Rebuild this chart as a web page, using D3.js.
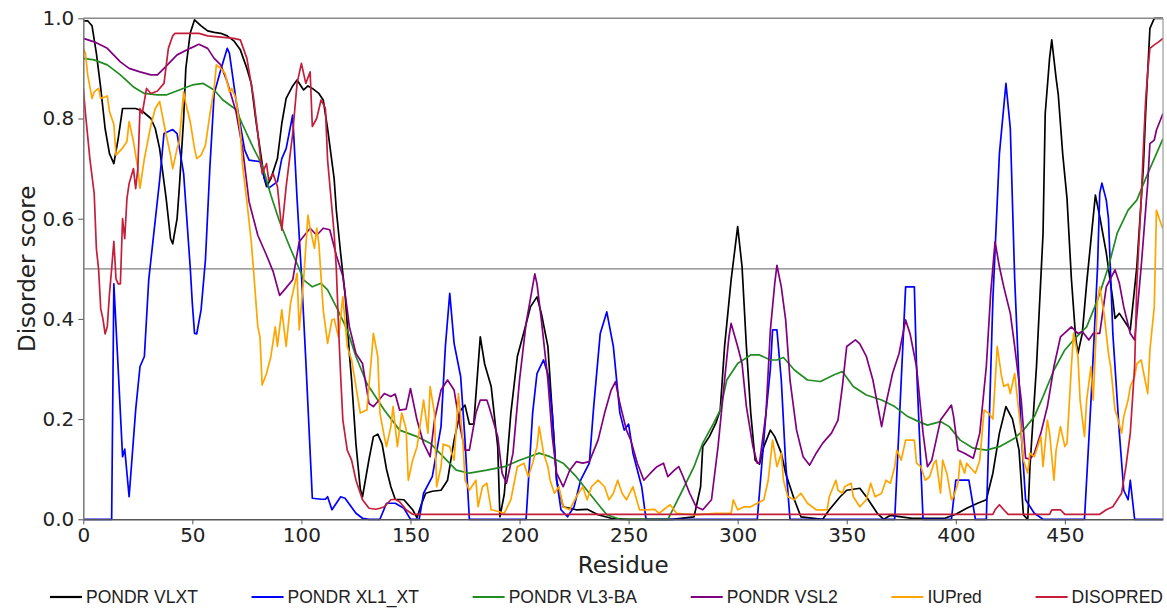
<!DOCTYPE html>
<html>
<head>
<meta charset="utf-8">
<script src="https://cdn.jsdelivr.net/npm/d3@7"></script>
<style>
  html, body { margin: 0; padding: 0; background: #fff; }
  svg { display: block; }
  .tick text { font-family: "DejaVu Sans", sans-serif; font-size: 20px; fill: #222; }
  .axis-title { font-family: "DejaVu Sans", sans-serif; font-size: 23px; fill: #222; }
  .legend text { font-family: "Liberation Sans", Arial, sans-serif; font-size: 17.5px; fill: #222; }
</style>
</head>
<body>
<svg id="chart" width="1167" height="610"></svg>
<script>
// Per-residue disorder predictions, [residue, score] pairs.
const pondrVLXT = [[0,0.995],[2,0.995],[4,0.985],[6,0.93],[8,0.86],[10,0.78],[12,0.73],[14,0.71],[16,0.76],[18,0.82],[21,0.82],[24,0.82],[27,0.815],[31,0.80],[33,0.78],[35,0.74],[38,0.64],[40,0.56],[41,0.55],[43,0.60],[44,0.66],[46,0.80],[47,0.90],[49,0.97],[51,0.997],[54,0.985],[57,0.975],[60,0.972],[63,0.97],[66,0.965],[69,0.955],[72,0.937],[75,0.90],[77,0.87],[79,0.80],[81,0.74],[83,0.68],[84,0.664],[86,0.68],[89,0.72],[91,0.79],[93,0.84],[96,0.865],[98,0.877],[101,0.857],[103,0.865],[105,0.86],[108,0.85],[110,0.837],[112,0.78],[115,0.68],[116,0.617],[118,0.53],[120,0.45],[122,0.33],[123,0.278],[125,0.15],[127,0.06],[128,0.045],[131,0.12],[133,0.165],[135,0.17],[137,0.15],[139,0.10],[141,0.065],[143,0.04],[147,0.039],[151,0.019],[153,0.003],[155,0.03],[157,0.052],[160,0.056],[164,0.058],[167,0.078],[170,0.158],[173,0.218],[175,0.228],[177,0.19],[179,0.19],[182,0.364],[184,0.31],[187,0.265],[190,0.145],[191,0.005],[193,0.05],[196,0.211],[199,0.325],[203,0.39],[205,0.424],[208,0.444],[210,0.411],[213,0.345],[215,0.212],[217,0.078],[220,0.025],[226,0.019],[231,0.02],[236,0.009],[242,0.002],[250,0],[270,0],[280,0.005],[283,0.065],[284,0.145],[287,0.165],[290,0.192],[292,0.218],[294,0.345],[297,0.478],[300,0.584],[302,0.505],[304,0.345],[306,0.212],[308,0.118],[310,0.11],[312,0.145],[315,0.178],[317,0.165],[320,0.132],[322,0.092],[326,0.039],[329,0.005],[339,0],[342,0.019],[347,0.045],[350,0.058],[356,0.062],[359,0.045],[364,0.012],[367,0],[370,0.008],[375,0.005],[380,0.002],[395,0.002],[400,0.01],[405,0.022],[410,0.032],[414,0.039],[417,0.092],[420,0.172],[423,0.225],[426,0.20],[429,0.138],[431,0.009],[433,0],[434,0.105],[437,0.305],[440,0.57],[441,0.81],[443,0.92],[444,0.957],[446,0.88],[447,0.847],[449,0.73],[451,0.64],[453,0.48],[455,0.36],[456,0.331],[458,0.371],[460,0.471],[464,0.647],[466,0.604],[469,0.532],[472,0.438],[473,0.401],[475,0.411],[480,0.378],[483,0.504],[486,0.704],[487,0.807],[489,0.98],[491,1.0],[495,1.0]];

const pondrXL1 = [[0,0],[13,0],[14,0.47],[16,0.30],[18,0.125],[19,0.14],[21,0.045],[24,0.218],[26,0.305],[28,0.325],[30,0.478],[31,0.518],[35,0.677],[37,0.77],[41,0.778],[43,0.77],[46,0.69],[49,0.504],[50,0.43],[51,0.371],[52,0.37],[54,0.418],[56,0.518],[58,0.70],[60,0.85],[63,0.897],[66,0.94],[67,0.93],[70,0.837],[74,0.737],[76,0.717],[81,0.714],[83,0.68],[85,0.661],[89,0.674],[91,0.72],[93,0.74],[96,0.807],[98,0.64],[100,0.49],[102,0.318],[105,0.042],[109,0.04],[111,0.04],[112,0.045],[114,0.019],[118,0.045],[120,0.042],[122,0.03],[125,0.012],[128,0.002],[131,0],[136,0],[139,0.032],[143,0.032],[147,0.022],[150,0],[154,0],[156,0.052],[160,0.085],[164,0.185],[166,0.345],[168,0.451],[170,0.351],[173,0.285],[175,0.158],[177,0],[203,0],[206,0.212],[208,0.291],[211,0.318],[213,0.29],[215,0.212],[217,0.078],[219,0.019],[222,0.005],[225,0.025],[228,0.078],[232,0.112],[234,0.225],[237,0.371],[240,0.414],[243,0.345],[246,0.212],[248,0.178],[250,0.19],[252,0.132],[256,0.065],[258,0],[309,0],[313,0.212],[315,0.30],[316,0.378],[318,0.378],[320,0.278],[322,0.112],[324,0],[372,0],[375,0.278],[377,0.464],[381,0.464],[382,0.305],[385,0],[398,0],[400,0.078],[406,0.078],[409,0],[414,0],[417,0.438],[420,0.73],[423,0.87],[425,0.78],[427,0.48],[430,0.172],[432,0.039],[436,0.012],[440,0],[459,0],[462,0.238],[465,0.504],[466,0.651],[467,0.671],[469,0.637],[470,0.60],[472,0.371],[475,0.172],[477,0.058],[479,0.039],[480,0.078],[482,0],[495,0]];

const pondrVL3BA = [[0,0.92],[5,0.917],[11,0.907],[17,0.887],[23,0.863],[28,0.85],[34,0.847],[38,0.847],[44,0.857],[50,0.867],[55,0.87],[60,0.857],[64,0.837],[70,0.818],[73,0.788],[78,0.741],[82,0.707],[86,0.647],[90,0.594],[95,0.54],[99,0.50],[101,0.478],[105,0.464],[109,0.471],[112,0.458],[116,0.424],[121,0.378],[125,0.325],[130,0.271],[135,0.238],[138,0.218],[145,0.178],[153,0.165],[159,0.152],[165,0.125],[171,0.098],[177,0.092],[185,0.098],[193,0.105],[200,0.118],[209,0.132],[214,0.125],[220,0.112],[226,0.085],[232,0.052],[237,0.025],[240,0.009],[246,0],[268,0],[274,0.052],[280,0.105],[284,0.152],[289,0.192],[292,0.218],[295,0.278],[300,0.311],[306,0.328],[310,0.328],[315,0.318],[318,0.318],[321,0.323],[326,0.298],[332,0.278],[338,0.275],[344,0.288],[348,0.295],[353,0.265],[359,0.248],[366,0.238],[372,0.225],[378,0.205],[383,0.195],[387,0.188],[393,0.195],[397,0.185],[402,0.158],[408,0.142],[414,0.138],[420,0.145],[427,0.162],[431,0.178],[436,0.205],[440,0.245],[445,0.298],[450,0.338],[454,0.358],[460,0.384],[465,0.438],[470,0.504],[474,0.571],[479,0.617],[483,0.637],[488,0.69],[494,0.75],[495,0.76]];

const pondrVSL2 = [[0,0.96],[5,0.953],[11,0.94],[17,0.913],[21,0.90],[26,0.893],[31,0.887],[34,0.887],[37,0.90],[43,0.927],[49,0.94],[53,0.948],[57,0.94],[60,0.92],[63,0.907],[66,0.873],[70,0.814],[73,0.741],[76,0.634],[80,0.567],[84,0.527],[87,0.495],[90,0.447],[92,0.457],[96,0.478],[99,0.554],[104,0.581],[107,0.567],[110,0.581],[113,0.578],[116,0.527],[119,0.485],[122,0.384],[125,0.331],[128,0.311],[131,0.231],[133,0.225],[135,0.235],[138,0.251],[141,0.245],[143,0.25],[145,0.218],[148,0.22],[150,0.261],[153,0.198],[156,0.152],[159,0.125],[161,0.198],[164,0.258],[167,0.278],[170,0.258],[173,0.178],[175,0.138],[177,0.138],[180,0.212],[182,0.238],[185,0.238],[186,0.225],[190,0.165],[192,0.092],[194,0.072],[197,0.132],[200,0.278],[203,0.391],[207,0.49],[208,0.47],[210,0.398],[213,0.278],[215,0.165],[217,0.092],[220,0.065],[223,0.098],[226,0.115],[229,0.112],[232,0.115],[236,0.158],[239,0.212],[242,0.258],[244,0.275],[246,0.231],[249,0.178],[251,0.158],[254,0.112],[257,0.078],[260,0.092],[263,0.105],[266,0.112],[268,0.085],[271,0.098],[273,0.105],[275,0.085],[278,0.052],[281,0.025],[284,0.019],[288,0.039],[291,0.145],[294,0.278],[296,0.364],[297,0.391],[300,0.345],[302,0.311],[304,0.225],[307,0.145],[309,0.112],[310,0.112],[313,0.212],[315,0.378],[317,0.471],[318,0.507],[320,0.464],[322,0.398],[324,0.278],[327,0.178],[330,0.125],[333,0.108],[336,0.132],[339,0.152],[343,0.172],[346,0.198],[348,0.265],[350,0.345],[354,0.358],[356,0.35],[359,0.325],[362,0.278],[366,0.185],[368,0.231],[371,0.291],[374,0.331],[377,0.398],[379,0.371],[382,0.305],[385,0.172],[387,0.105],[389,0.118],[393,0.198],[398,0.228],[399,0.205],[401,0.138],[404,0.132],[408,0.122],[411,0.172],[414,0.305],[416,0.451],[418,0.554],[420,0.504],[422,0.464],[425,0.411],[427,0.345],[430,0.238],[432,0.122],[434,0.12],[436,0.132],[439,0.172],[442,0.225],[445,0.305],[448,0.364],[453,0.384],[456,0.371],[458,0.375],[461,0.358],[463,0.371],[466,0.371],[469,0.464],[473,0.498],[475,0.471],[477,0.424],[480,0.371],[482,0.358],[485,0.504],[488,0.671],[489,0.75],[491,0.757],[492,0.777],[495,0.81]];

const iuPred = [[0,0.94],[1,0.93],[2,0.887],[4,0.84],[5,0.853],[7,0.86],[8,0.84],[11,0.845],[12,0.814],[14,0.788],[15,0.727],[18,0.741],[20,0.754],[21,0.794],[23,0.754],[25,0.70],[26,0.661],[28,0.72],[31,0.787],[33,0.82],[35,0.834],[38,0.767],[40,0.727],[41,0.70],[43,0.74],[44,0.754],[46,0.853],[47,0.83],[49,0.794],[51,0.74],[52,0.72],[54,0.727],[56,0.747],[58,0.807],[60,0.86],[61,0.907],[63,0.90],[65,0.89],[67,0.853],[68,0.86],[70,0.84],[72,0.774],[73,0.707],[75,0.634],[77,0.554],[78,0.50],[80,0.384],[81,0.364],[82,0.268],[84,0.291],[86,0.325],[88,0.384],[89,0.345],[91,0.418],[93,0.345],[95,0.431],[96,0.451],[98,0.491],[99,0.378],[101,0.478],[103,0.607],[104,0.58],[106,0.541],[107,0.581],[108,0.55],[110,0.418],[112,0.351],[114,0.398],[115,0.40],[117,0.364],[119,0.444],[121,0.345],[123,0.318],[125,0.265],[127,0.212],[130,0.218],[132,0.318],[133,0.371],[135,0.325],[136,0.212],[138,0.165],[139,0.145],[141,0.185],[142,0.225],[144,0.145],[146,0.212],[148,0.18],[149,0.078],[151,0.118],[153,0.145],[154,0.175],[156,0.238],[158,0.172],[159,0.265],[161,0.212],[162,0.065],[164,0.105],[165,0.15],[168,0.145],[170,0.118],[172,0.251],[174,0.158],[175,0.078],[177,0.058],[180,0.078],[181,0.025],[183,0.065],[185,0.072],[187,0.019],[190,0.016],[193,0.012],[196,0.039],[199,0.105],[202,0.112],[204,0.085],[206,0.112],[208,0.145],[209,0.185],[211,0.132],[213,0.105],[214,0.078],[216,0.052],[218,0.065],[220,0.025],[223,0.019],[226,0.045],[229,0.065],[231,0.039],[233,0.065],[236,0.078],[239,0.065],[241,0.039],[243,0.052],[245,0.078],[247,0.052],[249,0.039],[252,0.065],[255,0.019],[258,0.019],[262,0.02],[264,0.012],[266,0.019],[269,0.029],[272,0.012],[280,0.009],[290,0.012],[297,0.012],[298,0.039],[300,0.019],[303,0.025],[306,0.025],[309,0.032],[312,0.039],[314,0.078],[316,0.158],[318,0.105],[320,0.132],[321,0.078],[323,0.045],[326,0.039],[329,0.052],[332,0.032],[336,0.019],[341,0.019],[342,0.045],[345,0.078],[346,0.058],[348,0.052],[349,0.065],[352,0.072],[353,0.045],[356,0.025],[359,0.039],[361,0.072],[363,0.045],[366,0.052],[368,0.078],[370,0.072],[372,0.105],[373,0.138],[375,0.118],[377,0.158],[381,0.158],[382,0.112],[384,0.105],[386,0.078],[388,0.085],[390,0.112],[391,0.118],[393,0.052],[394,0.118],[396,0.09],[398,0.039],[399,0.045],[401,0.072],[402,0.118],[404,0.092],[405,0.112],[409,0.092],[411,0.118],[413,0.218],[415,0.212],[417,0.2],[418,0.271],[419,0.345],[421,0.285],[422,0.265],[424,0.27],[425,0.251],[427,0.291],[428,0.251],[430,0.172],[431,0.118],[433,0.092],[434,0.132],[436,0.125],[437,0.138],[439,0.165],[440,0.105],[442,0.198],[443,0.172],[445,0.078],[446,0.138],[448,0.185],[450,0.145],[451,0.152],[453,0.305],[454,0.371],[456,0.325],[457,0.238],[459,0.165],[460,0.238],[462,0.305],[463,0.238],[465,0.438],[466,0.464],[468,0.41],[470,0.331],[471,0.305],[473,0.218],[474,0.205],[476,0.172],[477,0.205],[479,0.238],[480,0.265],[482,0.285],[483,0.31],[485,0.318],[486,0.295],[488,0.251],[489,0.338],[491,0.424],[492,0.617],[494,0.591],[495,0.58]];

const disopred = [[0,0.86],[1,0.81],[3,0.72],[5,0.65],[6,0.54],[7,0.50],[8,0.42],[9,0.40],[10,0.37],[11,0.385],[12,0.45],[13,0.50],[14,0.555],[15,0.48],[16,0.47],[17,0.47],[18,0.60],[19,0.56],[20,0.64],[21,0.67],[23,0.70],[24,0.66],[25,0.70],[26,0.82],[27,0.81],[29,0.86],[31,0.85],[34,0.855],[37,0.87],[39,0.94],[41,0.965],[42,0.97],[53,0.97],[57,0.965],[69,0.96],[72,0.957],[75,0.92],[78,0.843],[80,0.771],[82,0.69],[84,0.71],[85,0.677],[87,0.69],[89,0.664],[91,0.577],[93,0.664],[96,0.77],[98,0.87],[100,0.91],[102,0.87],[104,0.893],[105,0.784],[107,0.80],[109,0.837],[111,0.82],[112,0.717],[115,0.571],[116,0.50],[117,0.385],[118,0.285],[119,0.198],[121,0.138],[123,0.118],[125,0.078],[128,0.039],[131,0.022],[134,0.02],[136,0.022],[138,0.025],[141,0.039],[143,0.04],[145,0.035],[148,0.019],[151,0.01],[417,0.01],[418,0.019],[420,0.029],[422,0.019],[424,0.01],[443,0.01],[444,0.019],[448,0.019],[450,0.01],[466,0.01],[469,0.019],[472,0.025],[476,0.052],[478,0.105],[480,0.172],[482,0.305],[483,0.471],[485,0.637],[486,0.74],[487,0.834],[488,0.893],[489,0.94],[491,0.947],[493,0.953],[495,0.96]];

const seriesNames = ["PONDR VLXT", "PONDR XL1_XT", "PONDR VL3-BA", "PONDR VSL2", "IUPred", "DISOPRED"];
const seriesColors = ["#000000", "#0000ff", "#228b22", "#800080", "#ffa500", "#c41e3a"];
const seriesData = [pondrVLXT, pondrXL1, pondrVL3BA, pondrVSL2, iuPred, disopred];

const residueTicks = [0, 50, 100, 150, 200, 250, 300, 350, 400, 450];
const scoreTicks = [0.0, 0.2, 0.4, 0.6, 0.8, 1.0];
const disorderThreshold = 0.5;

const svg = d3.select("#chart");
const W = 1167, H = 610;
const margin = { top: 18.3, right: 4, bottom: 90.7, left: 83.3 };

const x = d3.scaleLinear().domain([0, 495]).range([margin.left, W - margin.right]);
const y = d3.scaleLinear().domain([0, 1]).range([H - margin.bottom, margin.top]);

// clip the traces to the plotting box
svg.append("defs").append("clipPath").attr("id", "plot-clip")
  .append("rect")
  .attr("x", x(0)).attr("y", y(1) - 2)
  .attr("width", x(495) - x(0)).attr("height", y(0) - y(1) + 4);

// threshold line
svg.append("line")
  .attr("x1", x(0)).attr("x2", x(495))
  .attr("y1", y(disorderThreshold)).attr("y2", y(disorderThreshold))
  .attr("stroke", "#808080").attr("stroke-width", 1.3);

const line = d3.line().x(d => x(d[0])).y(d => y(d[1]));

const traces = svg.append("g").attr("clip-path", "url(#plot-clip)");
seriesData.forEach((data, i) => {
  traces.append("path")
    .datum(data)
    .attr("d", line)
    .attr("fill", "none")
    .attr("stroke", seriesColors[i])
    .attr("stroke-width", 1.7)
    .attr("stroke-linejoin", "round");
});

// frame
svg.append("line").attr("x1", x(0)).attr("x2", x(495)).attr("y1", y(1)).attr("y2", y(1))
  .attr("stroke", "#8a8a8a").attr("stroke-width", 1.5);
svg.append("line").attr("x1", x(495)).attr("x2", x(495)).attr("y1", y(1)).attr("y2", y(0))
  .attr("stroke", "#9a9a9a").attr("stroke-width", 1.2);

// axes
const xAxis = d3.axisBottom(x).tickValues(residueTicks).tickFormat(d3.format("d"))
  .tickSize(5).tickPadding(4).tickSizeOuter(0);
const yAxis = d3.axisLeft(y).tickValues(scoreTicks).tickFormat(d3.format(".1f"))
  .tickSize(5).tickPadding(4).tickSizeOuter(0);

const gx = svg.append("g").attr("transform", `translate(0,${y(0)})`).call(xAxis);
const gy = svg.append("g").attr("transform", `translate(${x(0)},0)`).call(yAxis);
gx.select(".domain").attr("stroke", "#555").attr("stroke-width", 1.5);
gy.select(".domain").attr("stroke", "#777").attr("stroke-width", 1.5);
gx.selectAll(".tick line").attr("stroke", "#555");
gy.selectAll(".tick line").attr("stroke", "#555");

// axis titles
svg.append("text").attr("class", "axis-title")
  .attr("x", (x(0) + x(495)) / 2).attr("y", 573)
  .attr("text-anchor", "middle").text("Residue");
svg.append("text").attr("class", "axis-title")
  .attr("transform", `translate(35,${(y(0) + y(1)) / 2}) rotate(-90)`)
  .attr("text-anchor", "middle").text("Disorder score");

// legend laid out in one row below the axis
const legend = svg.append("g").attr("class", "legend");
const handleLen = 32, handlePad = 4, legendLeft = 50, legendRight = 1163, legendY = 597;
const items = seriesNames.map((name, i) => {
  const g = legend.append("g");
  g.append("line").attr("x1", 0).attr("x2", handleLen).attr("y1", 0).attr("y2", 0)
    .attr("stroke", seriesColors[i]).attr("stroke-width", 2.2);
  const t = g.append("text").attr("x", handleLen + handlePad).attr("y", 0)
    .attr("dy", "0.35em").text(name);
  return { g, w: handleLen + handlePad + t.node().getComputedTextLength() };
});
const totalW = d3.sum(items, d => d.w);
const gap = (legendRight - legendLeft - totalW) / (items.length - 1);
let cx = legendLeft;
items.forEach(it => {
  it.g.attr("transform", `translate(${cx},${legendY})`);
  cx += it.w + gap;
});
</script>
</body>
</html>
